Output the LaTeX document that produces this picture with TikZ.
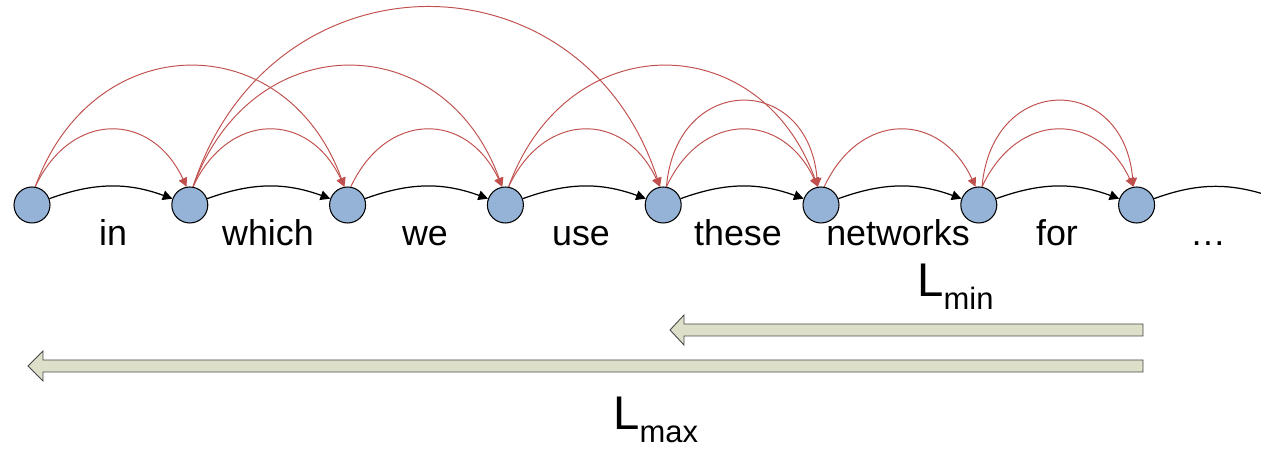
\documentclass[tikz,border=0pt]{standalone}
\usepackage{fontspec}
\setmainfont{Liberation Sans}
\usetikzlibrary{arrows.meta}
\definecolor{tokFill}{RGB}{149,179,215}
\definecolor{depRed}{RGB}{192,80,77}
\definecolor{barFill}{RGB}{221,223,200}
\definecolor{barLine}{RGB}{70,70,70}

\begin{document}
\begin{tikzpicture}[
  x=0.02cm, y=0.02cm,
  tok/.style={circle, draw=black, line width=0.6pt, fill=tokFill, minimum size=0.72cm, inner sep=0pt},
  word/.style={anchor=base, inner sep=0pt, font=\fontsize{20.4}{24}\selectfont},
  seq/.style={-{Triangle[length=5.5pt,width=5.5pt]}, line width=0.7pt, black},
  dep/.style={-{Triangle[length=5pt,width=5pt]}, line width=0.55pt, depRed},
  bar/.style={draw=barLine, line width=0.5pt, fill=barFill},
  len/.style={anchor=base west, inner sep=0pt, font=\fontsize{26.9}{30}\selectfont},
]
\useasboundingbox (0,0) rectangle (1261,449);

% ---- token chain ----
\node[tok] (n1) at (32,244) {};
\node[tok] (n2) at (189.8,244) {};
\node[tok] (n3) at (347.6,244) {};
\node[tok] (n4) at (505.4,244) {};
\node[tok] (n5) at (663.2,244) {};
\node[tok] (n6) at (821,244) {};
\node[tok] (n7) at (978.8,244) {};
\node[tok] (n8) at (1136.6,244) {};
\coordinate (tail) at (1277.7,250.2);

% ---- words ----
\node[word] (w1) at (113,203) {in};
\node[word] (w2) at (268,203) {which};
\node[word] (w3) at (425,203) {we};
\node[word] (w4) at (581,203) {use};
\node[word] (w5) at (738,203) {these};
\node[word] (w6) at (898,203) {networks};
\node[word] (w7) at (1057,203) {for};
\node[word] (w8) at (1208,203) {…};

% ---- sequence arrows ----
\draw[seq] (n1) to[bend left=20] (n2);
\draw[seq] (n2) to[bend left=20] (n3);
\draw[seq] (n3) to[bend left=20] (n4);
\draw[seq] (n4) to[bend left=20] (n5);
\draw[seq] (n5) to[bend left=20] (n6);
\draw[seq] (n6) to[bend left=20] (n7);
\draw[seq] (n7) to[bend left=20] (n8);
\draw[line width=0.7pt] (n8) to[out=20,in=160] (tail);

% ---- red links ----
\draw[dep] (n1.80) to[out=65,in=115,looseness=1.42] (n2.100);
\draw[dep] (n1.80) to[out=70,in=110,looseness=1.42] (n3.100);
\draw[dep] (n2.80) to[out=65,in=115,looseness=1.42] (n3.100);
\draw[dep] (n2.80) to[out=70,in=110,looseness=1.42] (n4.100);
\draw[dep] (n2.80) to[out=72,in=108,looseness=1.38] (n5.100);
\draw[dep] (n3.80) to[out=65,in=115,looseness=1.42] (n4.100);
\draw[dep] (n4.80) to[out=65,in=115,looseness=1.42] (n5.100);
\draw[dep] (n4.80) to[out=70,in=110,looseness=1.42] (n6.100);
\draw[dep] (n5.80) to[out=65,in=115,looseness=1.42] (n6.100);
\draw[dep] (n5.80) to[out=85,in=95,looseness=1.94] (n6.100);
\draw[dep] (n6.80) to[out=65,in=115,looseness=1.42] (n7.100);
\draw[dep] (n7.80) to[out=65,in=115,looseness=1.42] (n8.100);
\draw[dep] (n7.80) to[out=85,in=95,looseness=1.94] (n8.100);

% ---- window bars ----
\draw[bar] (1143,113) -- (684,113) -- (684,104) -- (670,119) -- (684,134) -- (684,125) -- (1143,125) -- cycle;
\draw[bar] (1143,77) -- (43,77) -- (43,68) -- (28,83) -- (43,98) -- (43,89) -- (1143,89) -- cycle;

\node[len] (Lmin) at (917,152) {L\raisebox{-7.4pt}{\fontsize{17.6}{20}\selectfont min}};
\node[len] (Lmax) at (613,19) {L\raisebox{-7.4pt}{\fontsize{17.6}{20}\selectfont max}};

\end{tikzpicture}
\end{document}
